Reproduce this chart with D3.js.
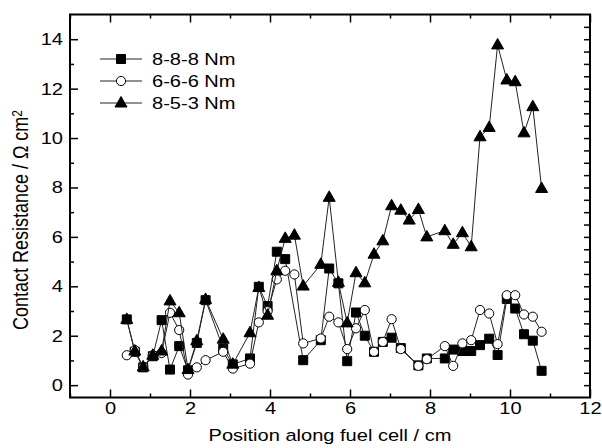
<!DOCTYPE html>
<html>
<head>
<meta charset="utf-8">
<script src="https://cdn.jsdelivr.net/npm/d3@7"></script>
<style>
  body { margin: 0; background: #fff; }
  text { font-family: Arial, "Liberation Sans", sans-serif; fill: #000; }
</style>
</head>
<body>
<div id="chart"></div>
<script>
// positions along the cell (cm), shared by all three series
var positions = [0.42, 0.62, 0.83, 1.07, 1.29, 1.5, 1.73, 1.95, 2.17, 2.39, 2.83, 3.07, 3.5, 3.72, 3.94,
  4.17, 4.38, 4.61, 4.83, 5.27, 5.48, 5.71, 5.93, 6.15, 6.37, 6.6, 6.82, 7.04, 7.27, 7.48, 7.71, 7.92,
  8.37, 8.58, 8.81, 9.03, 9.25, 9.48, 9.69, 9.92, 10.13, 10.35, 10.57, 10.79]

var torque888 = [2.66, 1.35, 0.72, 1.17, 2.63, 0.63, 1.58, 0.6, 1.71, 3.44, 1.48, 0.84, 1.08, 3.98, 3.2,
  5.4, 5.1, null, 1.01, 1.82, 4.72, 4.12, 0.97, 2.94, 2.0, 1.35, 1.75, 1.92, 1.5, null, 0.8, 1.08,
  1.08, 1.44, 1.38, 1.38, 1.62, 1.88, 1.22, 3.49, 3.1, 2.06, 1.8, 0.58]

var torque666 = [1.21, 1.42, 0.74, 1.21, 1.3, 2.93, 2.23, 0.43, 0.72, 1.01, 1.35, 0.67, 0.87, 2.54, 3.0,
  4.28, 4.63, 4.48, 1.69, 1.89, 2.77, 2.54, 1.46, 2.3, 3.04, 1.35, 1.75, 2.67, 1.46, null, 0.78, 1.05,
  1.58, 0.78, 1.69, 1.82, 3.04, 2.9, 1.66, 3.64, 3.64, 2.86, 2.77, 2.16]

var torque853 = [2.66, 1.38, 0.74, 1.21, 1.38, 3.41, 2.93, 0.63, 1.8, 3.47, 1.86, 0.85, 2.12, 3.95, 2.83,
  4.63, 5.94, 6.07, 4.01, 4.89, 7.6, 4.16, 2.52, 4.55, 4.14, 5.3, 5.84, 7.26, 7.08, 6.68, 7.11, 6.0,
  6.25, 5.7, 6.17, 5.6, 10.05, 10.43, 13.77, 12.35, 12.28, 10.21, 11.27, 7.96]

var seriesNames = ["8-8-8 Nm", "6-6-6 Nm", "8-5-3 Nm"]
var seriesSymbols = ["square", "circle", "triangle"]
var xTicks = [0, 2, 4, 6, 8, 10, 12]
var yTicks = [0, 2, 4, 6, 8, 10, 12, 14]

var width = 602, height = 448
var stretch = "scale(1.18,1)"   // the source picture is a bit wider than tall
var svg = d3.select("#chart").append("svg")
    .attr("width", width)
    .attr("height", height)

var x = d3.scaleLinear().domain([-1, 12]).range([70, 590])
var y = d3.scaleLinear().domain([-0.5, 15]).range([397.5, 14.5])

var x0 = 70, x1 = 590, y0 = 397.5, y1 = 14.5

// bottom axis, ticks point inward
var xMinor = d3.range(-1, 12, 1).filter(function(v){ return xTicks.indexOf(v) < 0 })
svg.append("g").attr("class", "labelled").attr("transform", "translate(0," + y0 + ")")
    .call(d3.axisBottom(x).tickValues(xTicks).tickSize(-8).tickSizeOuter(0).tickPadding(4))
    .call(function(g){ g.select(".domain").remove() })
svg.append("g").attr("transform", "translate(0," + y0 + ")")
    .call(d3.axisBottom(x).tickValues(xMinor).tickSize(-4).tickFormat(""))
    .call(function(g){ g.select(".domain").remove() })
// top axis
svg.append("g").attr("transform", "translate(0," + y1 + ")")
    .call(d3.axisTop(x).tickValues(xTicks).tickSize(-8).tickFormat(""))
    .call(function(g){ g.select(".domain").remove() })
svg.append("g").attr("transform", "translate(0," + y1 + ")")
    .call(d3.axisTop(x).tickValues(xMinor).tickSize(-4).tickFormat(""))
    .call(function(g){ g.select(".domain").remove() })

// left axis
var yMinor = d3.range(1, 15, 2)
svg.append("g").attr("class", "labelled").attr("transform", "translate(" + x0 + ",0)")
    .call(d3.axisLeft(y).tickValues(yTicks).tickSize(-8).tickPadding(6))
    .call(function(g){ g.select(".domain").remove() })
svg.append("g").attr("transform", "translate(" + x0 + ",0)")
    .call(d3.axisLeft(y).tickValues(yMinor).tickSize(-4).tickFormat(""))
    .call(function(g){ g.select(".domain").remove() })
// right axis, half-unit ticks
svg.append("g").attr("transform", "translate(" + x1 + ",0)")
    .call(d3.axisRight(y).tickValues(d3.range(0, 15, 0.5)).tickSize(-6).tickFormat(""))
    .call(function(g){ g.select(".domain").remove() })

svg.selectAll(".tick line").attr("stroke", "#000").attr("stroke-width", 1.5)
svg.selectAll(".labelled .tick text")
    .style("font-size", "17px")
    .style("font-family", "Arial, 'Liberation Sans', sans-serif")
    .attr("fill", "#000")
    .attr("transform", stretch)

svg.append("rect")
    .attr("x", x0).attr("y", y1)
    .attr("width", x1 - x0).attr("height", y0 - y1)
    .attr("fill", "none").attr("stroke", "#000").attr("stroke-width", 2)

// axis titles
svg.append("text")
    .attr("transform", "translate(" + ((x0 + x1) / 2) + ",441) " + stretch)
    .attr("text-anchor", "middle")
    .style("font-size", "17px")
    .text("Position along fuel cell / cm")

var yTitle = svg.append("text")
    .attr("transform", "translate(28,220) " + stretch + " rotate(-90)")
    .attr("text-anchor", "middle")
    .style("font-size", "18px")
yTitle.append("tspan").text("Contact Resistance / \u03a9 cm")
yTitle.append("tspan").attr("dy", "-0.45em").style("font-size", "12px").text("2")

function markerPath(kind){
    if(kind == "square") return "M-4.5,-4.5H4.5V4.5H-4.5Z"
    if(kind == "triangle") return "M0,-6.5L6,4L-6,4Z"
    return d3.symbol().type(d3.symbolCircle).size(Math.PI * 4.6 * 4.6)()
}

var allSeries = [torque888, torque666, torque853].map(function(vals, i){
    return {
        name: seriesNames[i],
        symbol: seriesSymbols[i],
        points: positions.map(function(p, j){ return { x: p, y: vals[j] } })
            .filter(function(d){ return d.y != null })
    }
})

var line = d3.line()
    .x(function(d){ return x(d.x) })
    .y(function(d){ return y(d.y) })

allSeries.forEach(function(s){
    var g = svg.append("g")
    g.append("path")
        .attr("d", line(s.points))
        .attr("fill", "none")
        .attr("stroke", "#222")
        .attr("stroke-width", 1)
    g.selectAll(".pt")
        .data(s.points).enter()
        .append("path")
        .attr("class", "pt")
        .attr("transform", function(d){ return "translate(" + x(d.x) + "," + y(d.y) + ")" })
        .attr("d", markerPath(s.symbol))
        .attr("fill", s.symbol == "circle" ? "#fff" : "#000")
        .attr("stroke", "#000")
        .attr("stroke-width", 1)
})

// legend
var legend = svg.append("g")
allSeries.forEach(function(s, i){
    var ly = 59 + i * 22
    legend.append("line")
        .attr("x1", 100).attr("x2", 142)
        .attr("y1", ly).attr("y2", ly)
        .attr("stroke", "#222").attr("stroke-width", 1)
    legend.append("path")
        .attr("transform", "translate(121," + ly + ")")
        .attr("d", markerPath(s.symbol))
        .attr("fill", s.symbol == "circle" ? "#fff" : "#000")
        .attr("stroke", "#000")
    legend.append("text")
        .attr("transform", "translate(152," + (ly + 6) + ") " + stretch)
        .style("font-size", "17px")
        .text(s.name)
})
</script>
</body>
</html>
